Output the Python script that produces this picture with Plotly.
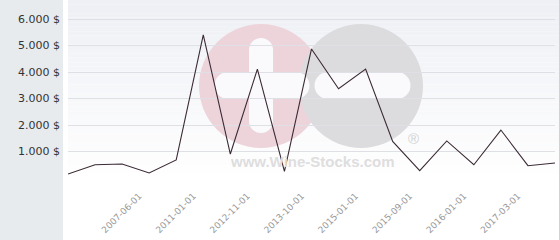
import plotly.graph_objects as go

values = [150, 500, 530, 190, 680, 5400, 905, 4110, 250, 4870, 3370, 4110,
          1380, 275, 1400, 500, 1810, 465, 565]
tick_index = [3, 5, 7, 9, 11, 13, 15, 17]
tick_labels = ["2007-06-01", "2011-01-01", "2012-11-01", "2013-10-01",
               "2015-01-01", "2015-09-01", "2016-01-01", "2017-03-01"]
y_ticks = [0, 1000, 2000, 3000, 4000, 5000, 6000]
y_labels = ["", "1.000 $", "2.000 $", "3.000 $", "4.000 $", "5.000 $", "6.000 $"]

W, H = 560, 240
L, R, T, B = 68, 5, 0, 62
PW, PH = W - L - R, H - T - B

def px(x):
    return (x - L) / PW

def py(y):
    return 1 - (y - T) / PH

xs = list(range(len(values)))

fig = go.Figure()
fig.add_trace(go.Scatter(x=xs, y=values, mode="lines",
                         line=dict(color="#3b2a35", width=1.1),
                         hoverinfo="skip", showlegend=False))

shapes = []
# left panel
shapes.append(dict(type="rect", xref="paper", yref="paper", x0=px(0), x1=px(63),
                   y0=py(H), y1=py(0), fillcolor="#e7ebee", line_width=0, layer="below"))
# gradient background of plot area
n = 40
for i in range(n):
    t = i / (n - 1)
    r = int(238 + (255 - 238) * t)
    g = int(240 + (255 - 240) * t)
    b = int(245 + (255 - 245) * t)
    shapes.append(dict(type="rect", xref="paper", yref="paper", x0=0, x1=1.01,
                       y0=1 - (i + 1) / n, y1=1 - i / n,
                       fillcolor=f"rgb({r},{g},{b})", line_width=0, layer="below"))

def circle(cx, cy, r, color):
    return dict(type="circle", xref="paper", yref="paper",
                x0=px(cx - r), x1=px(cx + r), y0=py(cy + r), y1=py(cy - r),
                fillcolor=color, line_width=0, layer="below")

def rbar(x0, x1, y0, y1, color):
    return [dict(type="rect", xref="paper", yref="paper", x0=px(x0), x1=px(x1),
                 y0=py(y1), y1=py(y0), fillcolor=color, line_width=0, layer="below")]

white = "rgba(250,250,252,1)"
shapes.append(circle(261, 86, 62, "#edd4db"))
shapes.append(circle(361, 86, 62, "#dcdcde"))
# plus vertical bar
shapes += rbar(249, 273, 50, 121, white)
shapes.append(circle(261, 50, 12, white))
shapes.append(circle(261, 121, 12, white))
# plus horizontal bar
shapes += rbar(228, 296, 72, 99, white)
shapes.append(circle(228, 85.5, 13.5, white))
shapes.append(circle(296, 85.5, 13.5, white))
# minus bar
shapes += rbar(328, 397, 72, 99, white)
shapes.append(circle(328, 85.5, 13.5, white))
shapes.append(circle(397, 85.5, 13.5, white))
# right border
shapes.append(dict(type="line", xref="paper", yref="paper", x0=px(559.5), x1=px(559.5),
                   y0=py(H), y1=py(0), line=dict(color="#cfd2d8", width=1), layer="above"))

annotations = [
    dict(text="<b>www.Wine-Stocks.com</b>", xref="paper", yref="paper", x=px(312), y=py(161),
         showarrow=False, font=dict(family="Liberation Sans", size=15, color="#dedede"),
         xanchor="center", yanchor="middle"),
    dict(text="®", xref="paper", yref="paper", x=px(413), y=py(138),
         showarrow=False, font=dict(family="Liberation Sans", size=15, color="#d2d2d2"),
         xanchor="center", yanchor="middle"),
]

fig.update_layout(
    width=W, height=H,
    margin=dict(l=L, r=R, t=T, b=B),
    paper_bgcolor="white", plot_bgcolor="white",
    shapes=shapes, annotations=annotations,
    font=dict(family="DejaVu Sans"),
    xaxis=dict(range=[0, len(values) - 1], tickmode="array", tickvals=tick_index,
               ticktext=tick_labels, tickangle=-45, showgrid=False, zeroline=False,
               showline=False, ticks="", tickfont=dict(size=9, color="#999999"),
               ticklabelstandoff=10, ticklabelshift=-10, automargin=False),
    yaxis=dict(range=[0, PH / 26.5 * 1000], tickmode="array", tickvals=y_ticks,
               ticktext=y_labels, showgrid=True, gridcolor="#dfe0e6", gridwidth=1,
               zeroline=False, showline=False, ticks="",
               tickfont=dict(size=11, color="#333333"), ticklabelstandoff=7,
               automargin=False),
)

fig.write_html("out.html")
